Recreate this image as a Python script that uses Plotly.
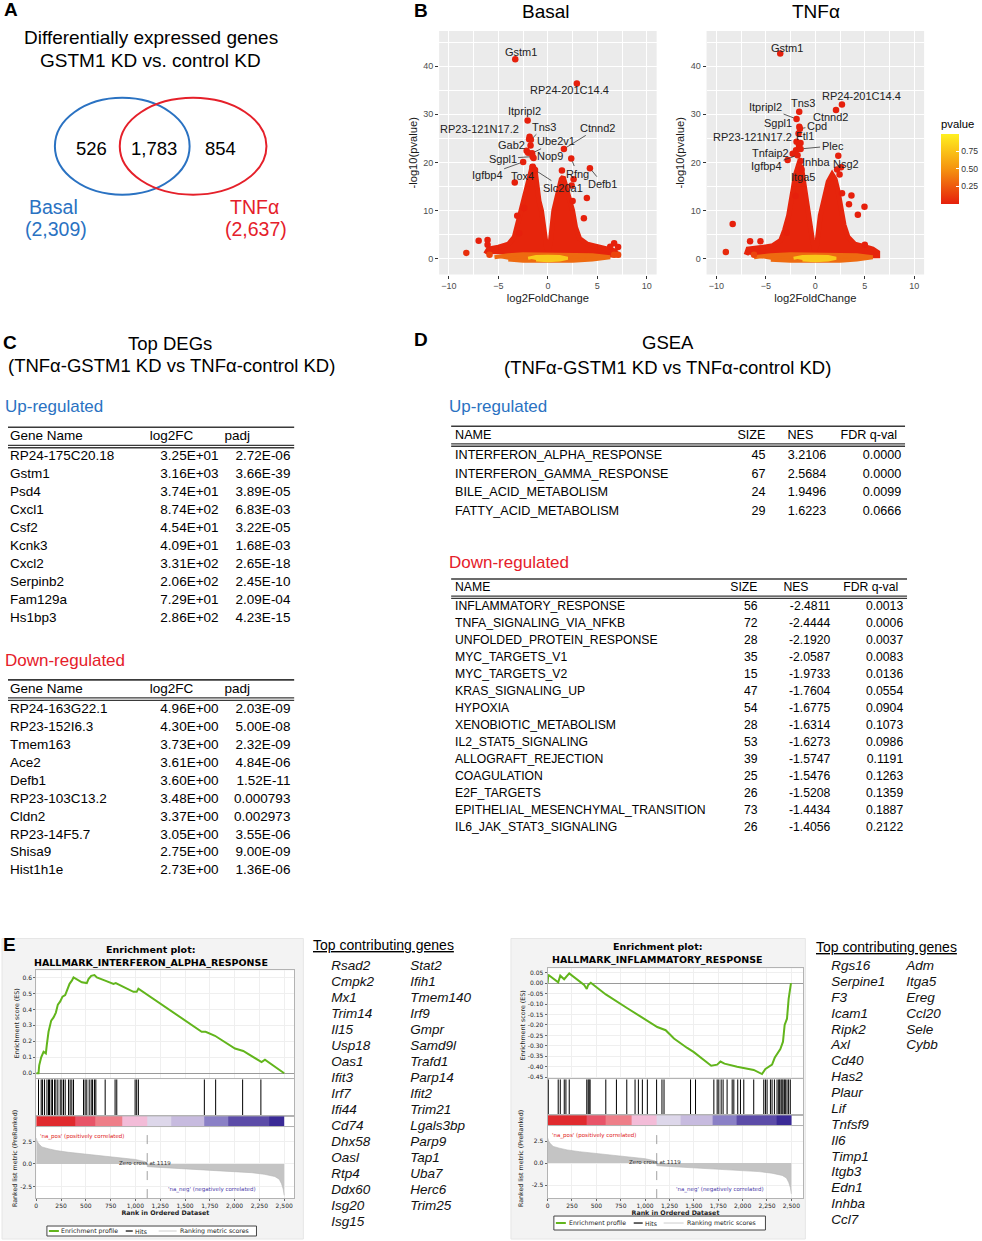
import plotly.graph_objects as go

# ---------------- data ----------------
# A: Venn of differentially expressed genes
VENN_SETS = ['Basal', 'TNFα']
VENN_TOTALS = [2309, 2637]
VENN_COUNTS = [526, 1783, 854]  # basal only, both, TNFα only

# B: volcano plots (log2FoldChange, -log10 pvalue)
BASAL_GENES = ['Gstm1', 'RP24-201C14.4', 'Itpripl2', 'RP23-121N17.2', 'Tns3', 'Gab2', 'Ube2v1',
               'Ctnnd2', 'Sgpl1', 'Nop9', 'Igfbp4', 'Tox4', 'Slc20a1', 'Rfng', 'Defb1']
BASAL_FC = [-3.3, 2.93, -2.05, -1.85, -1.72, -2.15, -1.6, 1.62, -1.55, -1.45, -2.5, -1.55, -1.3, 2.36, 4.25]
BASAL_LP = [41.4, 36.4, 28.7, 25.3, 24.7, 22.4, 21.9, 22.8, 21.2, 20.9, 20.1, 19.1, 18.4, 20.8, 18.8]
BASAL_OUT_FC = [-1.9, -2.0, -1.75, -3.35, 1.42, 2.6, 2.4, 2.5, 3.94, 3.64, -3.1, -2.4, -2.9, -7.0,
                -6.1, -6.1, -8.25, -5.9, 6.7, 7.1, 6.7, 7.1, 6.3]
BASAL_OUT_LP = [24.8, 22.0, 23.5, 15.8, 18.3, 16.5, 15.2, 12.0, 12.6, 8.4, 8.9, 10.5, 5.3, 3.7,
                3.9, 2.9, 1.2, 0.8, 3.2, 2.4, 0.8, 0.8, 2.5]
# outline of the dense cloud of genes (red), the low-significance band (orange) and core (yellow)
BASAL_CLOUD_FC = [-6.3, -6.0, -5.0, -4.0, -3.4, -3.1, -2.75, -2.4, -2.1, -1.8, -1.55, -1.3, -1.1, -0.9,
                  -0.65, -0.4, -0.15, 0.05, 0.25, 0.6, 1.0, 1.35, 1.55, 1.85, 2.2, 2.5, 2.8, 3.2, 4.0,
                  5.0, 6.0, 6.8, 7.0, 0.0]
BASAL_CLOUD_LP = [1.0, 2.0, 2.4, 3.0, 4.5, 7.0, 10.0, 13.0, 15.5, 17.5, 19.5, 18.5, 15.0, 12.0,
                  10.0, 6.0, 2.5, 1.5, 3.5, 10.0, 13.5, 16.5, 17.0, 15.0, 12.0, 10.0, 6.5, 4.2, 3.0,
                  2.5, 2.1, 1.6, 0.8, 0.5]
BASAL_MID_FC = [-5.4, -4.0, -2.5, 0.0, 2.5, 4.5, 6.3, 4.5, 2.5, 0.0, -2.5, -4.0]
BASAL_MID_LP = [0.3, 0.7, 0.9, 0.8, 0.9, 0.7, 0.3, -0.2, -0.45, -0.5, -0.45, -0.2]
BASAL_CORE_FC = [-2.0, -1.2, 0.0, 1.2, 2.0, 1.2, 0.0, -1.2]
BASAL_CORE_LP = [0.1, 0.45, 0.5, 0.45, 0.1, -0.3, -0.45, -0.3]

TNF_GENES = ['Gstm1', 'RP24-201C14.4', 'Tns3', 'Itpripl2', 'Sgpl1', 'Ctnnd2', 'Cpd', 'RP23-121N17.2',
             'Ftl1', 'Plec', 'Tnfaip2', 'Igfbp4', 'Inhba', 'Itga5', 'Nsg2']
TNF_FC = [-3.55, 2.69, -1.63, -1.9, -1.62, 2.09, -1.56, -1.9, -1.5, -1.49, -2.29, -1.8, -1.5, -1.4, 2.32]
TNF_LP = [42.6, 32.0, 30.5, 29.0, 27.4, 30.9, 27.0, 24.3, 24.0, 22.8, 21.8, 21.5, 20.3, 18.5, 21.4]
TNF_OUT_FC = [-8.36, -9.05, -6.6, -5.55, -6.2, -2.9, -2.0, 3.65, 4.97, 3.4, 4.3, 2.7, 5.0, -2.8,
              2.2, 2.6, 2.45, -1.7, -1.95, -1.65]
TNF_OUT_LP = [7.2, 1.4, 3.6, 3.6, 0.8, 5.4, 13.0, 13.1, 10.8, 11.3, 9.1, 13.6, 2.9, 20.5,
              18.5, 19.0, 17.5, 26.0, 22.5, 23.5]
TNF_CLOUD_FC = [-7.0, -6.8, -5.5, -4.3, -3.5, -3.1, -2.7, -2.4, -2.2, -2.0, -1.7, -1.4, -1.2, -0.9,
                -0.6, -0.3, -0.05, 0.15, 0.5, 0.9, 1.3, 1.7, 2.0, 2.3, 2.6, 2.9, 3.3, 4.0, 5.0,
                5.8, 6.3, 6.3, 0.0]
TNF_CLOUD_LP = [0.8, 2.0, 2.3, 2.7, 3.8, 6.0, 9.0, 12.0, 15.0, 17.5, 19.5, 19.0, 16.0, 12.0,
                8.0, 4.0, 1.5, 3.0, 9.0, 13.0, 16.0, 17.5, 16.5, 14.0, 10.5, 7.0, 4.5, 3.0, 2.5,
                2.0, 1.3, 0.6, 0.5]
TNF_MID_FC = [-6.2, -4.5, -2.5, 0.0, 2.5, 4.2, 5.8, 4.2, 2.5, 0.0, -2.5, -4.5]
TNF_MID_LP = [0.3, 0.7, 0.9, 0.8, 0.9, 0.7, 0.3, -0.2, -0.45, -0.5, -0.45, -0.2]
TNF_CORE_FC = [-2.2, -1.3, 0.0, 1.3, 2.1, 1.3, 0.0, -1.3]
TNF_CORE_LP = [0.1, 0.45, 0.5, 0.45, 0.1, -0.3, -0.45, -0.3]

# C: top DEGs
C_UP_GENES = ['RP24-175C20.18', 'Gstm1', 'Psd4', 'Cxcl1', 'Csf2', 'Kcnk3', 'Cxcl2', 'Serpinb2', 'Fam129a', 'Hs1bp3']
C_UP_LFC = ['3.25E+01', '3.16E+03', '3.74E+01', '8.74E+02', '4.54E+01', '4.09E+01', '3.31E+02', '2.06E+02', '7.29E+01', '2.86E+02']
C_UP_PADJ = ['2.72E-06', '3.66E-39', '3.89E-05', '6.83E-03', '3.22E-05', '1.68E-03', '2.65E-18', '2.45E-10', '2.09E-04', '4.23E-15']
C_DN_GENES = ['RP24-163G22.1', 'RP23-152I6.3', 'Tmem163', 'Ace2', 'Defb1', 'RP23-103C13.2', 'Cldn2', 'RP23-14F5.7', 'Shisa9', 'Hist1h1e']
C_DN_LFC = ['4.96E+00', '4.30E+00', '3.73E+00', '3.61E+00', '3.60E+00', '3.48E+00', '3.37E+00', '3.05E+00', '2.75E+00', '2.73E+00']
C_DN_PADJ = ['2.03E-09', '5.00E-08', '2.32E-09', '4.84E-06', '1.52E-11', '0.000793', '0.002973', '3.55E-06', '9.00E-09', '1.36E-06']
C_HEADER = ['Gene Name', 'log2FC', 'padj']

# D: GSEA hallmark sets
D_HEADER = ['NAME', 'SIZE', 'NES', 'FDR q-val']
D_UP_NAMES = ['INTERFERON_ALPHA_RESPONSE', 'INTERFERON_GAMMA_RESPONSE', 'BILE_ACID_METABOLISM', 'FATTY_ACID_METABOLISM']
D_UP_SIZE = [45, 67, 24, 29]
D_UP_NES = [3.2106, 2.5684, 1.9496, 1.6223]
D_UP_FDR = [0.0000, 0.0000, 0.0099, 0.0666]
D_DN_NAMES = ['INFLAMMATORY_RESPONSE', 'TNFA_SIGNALING_VIA_NFKB', 'UNFOLDED_PROTEIN_RESPONSE', 'MYC_TARGETS_V1',
              'MYC_TARGETS_V2', 'KRAS_SIGNALING_UP', 'HYPOXIA', 'XENOBIOTIC_METABOLISM', 'IL2_STAT5_SIGNALING',
              'ALLOGRAFT_REJECTION', 'COAGULATION', 'E2F_TARGETS', 'EPITHELIAL_MESENCHYMAL_TRANSITION',
              'IL6_JAK_STAT3_SIGNALING']
D_DN_SIZE = [56, 72, 28, 35, 15, 47, 54, 28, 53, 39, 25, 26, 73, 26]
D_DN_NES = [-2.4811, -2.4444, -2.1920, -2.0587, -1.9733, -1.7604, -1.6775, -1.6314, -1.6273, -1.5747,
            -1.5476, -1.5208, -1.4434, -1.4056]
D_DN_FDR = [0.0013, 0.0006, 0.0037, 0.0083, 0.0136, 0.0554, 0.0904, 0.1073, 0.0986, 0.1191,
            0.1263, 0.1359, 0.1887, 0.2122]

# E: enrichment plots
IFN_TITLE = 'HALLMARK_INTERFERON_ALPHA_RESPONSE'
IFN_RANK = [0, 23, 30, 50, 74, 97, 107, 124, 151, 175, 198, 218, 242, 265, 292, 315, 336, 359, 376,
            460, 510, 527, 554, 587, 611, 695, 779, 802, 862, 980, 1013, 1030, 1668, 1708, 1802,
            2004, 2087, 2272, 2306, 2500]
IFN_ES = [0.0, 0.0, 0.05, 0.10, 0.135, 0.125, 0.18, 0.26, 0.33, 0.35, 0.38, 0.43, 0.45, 0.48, 0.49,
          0.53, 0.56, 0.58, 0.60, 0.57, 0.565, 0.59, 0.61, 0.615, 0.60, 0.58, 0.56, 0.565, 0.545,
          0.51, 0.51, 0.53, 0.26, 0.26, 0.235, 0.155, 0.14, 0.07, 0.085, 0.0]
IFN_HITS = [23, 50, 64, 84, 108, 124, 134, 151, 164, 185, 198, 218, 242, 258, 275, 292, 326, 342,
            359, 376, 477, 493, 510, 534, 554, 568, 587, 601, 695, 795, 812, 997, 1013, 1030, 1695,
            1809, 2081, 2265]
INF_TITLE = 'HALLMARK_INFLAMMATORY_RESPONSE'
INF_RANK = [0, 7, 109, 130, 170, 222, 375, 402, 416, 443, 597, 699, 818, 955, 1125, 1211, 1296, 1432,
            1500, 1678, 1739, 1773, 1814, 1944, 2114, 2199, 2234, 2302, 2329, 2387, 2414, 2431, 2455,
            2472, 2496]
INF_ES = [0.0, 0.04, 0.004, 0.036, 0.019, 0.047, -0.009, -0.028, -0.009, 0.002, -0.054, -0.086,
          -0.12, -0.16, -0.21, -0.225, -0.265, -0.31, -0.33, -0.395, -0.39, -0.375, -0.385, -0.40,
          -0.415, -0.435, -0.41, -0.39, -0.357, -0.315, -0.28, -0.2, -0.17, -0.075, 0.0]
INF_HITS = [7, 109, 130, 171, 188, 222, 402, 416, 426, 436, 597, 706, 812, 897, 931, 972, 1023, 1118,
            1173, 1194, 1466, 1517, 1705, 1739, 1756, 1780, 1800, 1841, 1893, 1910, 1950, 1978, 2012,
            2114, 2217, 2234, 2251, 2285, 2302, 2326, 2353, 2370, 2380, 2394, 2404, 2414, 2428, 2438,
            2455, 2472, 2489]
RANK_X = [0, 10, 30, 57, 120, 200, 326, 500, 661, 850, 1000, 1097, 1118, 1120, 1300, 1500, 1668,
          1900, 2171, 2300, 2406, 2450, 2473, 2490, 2500]
RANK_METRIC = [2.9, 2.5, 2.2, 1.9, 1.7, 1.5, 1.3, 1.1, 0.9, 0.7, 0.5, 0.26, 0.1, -0.3, -0.4, -0.5,
               -0.67, -0.8, -0.97, -1.15, -1.4, -1.7, -2.2, -2.8, -3.5]
ZERO_CROSS = 1119
HEAT_EDGES = [0, 395, 595, 865, 1115, 1360, 1690, 1940, 2345, 2500]
HEAT_BINS = [0, 1, 2, 3, 4, 5, 6, 7, 8]
RANK_TICKS = [0, 250, 500, 750, 1000, 1250, 1500, 1750, 2000, 2250, 2500]
IFN_TICKS = [0.0, 0.1, 0.2, 0.3, 0.4, 0.5, 0.6]
INF_TICKS = [0.05, 0.0, -0.05, -0.10, -0.15, -0.20, -0.25, -0.30, -0.35, -0.40, -0.45]
METRIC_TICKS = [2.5, 0.0, -2.5]

IFN_GENES_1 = ['Rsad2', 'Cmpk2', 'Mx1', 'Trim14', 'Il15', 'Usp18', 'Oas1', 'Ifit3', 'Irf7', 'Ifi44',
               'Cd74', 'Dhx58', 'Oasl', 'Rtp4', 'Ddx60', 'Isg20', 'Isg15']
IFN_GENES_2 = ['Stat2', 'Ifih1', 'Tmem140', 'Irf9', 'Gmpr', 'Samd9l', 'Trafd1', 'Parp14', 'Ifit2',
               'Trim21', 'Lgals3bp', 'Parp9', 'Tap1', 'Uba7', 'Herc6', 'Trim25']
INF_GENES_1 = ['Rgs16', 'Serpine1', 'F3', 'Icam1', 'Ripk2', 'Axl', 'Cd40', 'Has2', 'Plaur', 'Lif',
               'Tnfsf9', 'Il6', 'Timp1', 'Itgb3', 'Edn1', 'Inhba', 'Ccl7']
INF_GENES_2 = ['Adm', 'Itga5', 'Ereg', 'Ccl20', 'Sele', 'Cybb']

# ---------------- style / layout ----------------
W, H = 982, 1241
SANS = 'Liberation Sans, Arial, sans-serif'
JAVA = 'DejaVu Sans, sans-serif'
BLUE = '#2a72c2'
RED = '#e5202a'
PT_RED, PT_ORANGE, PT_YELLOW = '#e6250c', '#ee6a10', '#f9c81a'
PV_SCALE = [[0, '#e6200c'], [0.5, '#f5930f'], [1, '#fff020']]
GREEN = '#62b51c'
HEAT_COLORS = ['#e02a2e', '#e85468', '#ee7e88', '#f3bcd8', '#ddd7ea', '#c7bbdf', '#8a80c6', '#5c4ca8', '#3a2a96']

fig = go.Figure()
layout = {}
shapes, annotations = [], []


def fx(x):
    return x / W


def fy(y):
    return 1 - y / H


def add_axes(n, left, right, top, bottom, xa=None, ya=None):
    s = '' if n == 1 else str(n)
    base = dict(showgrid=False, zeroline=False, showticklabels=False, ticks='', fixedrange=True, showline=False)
    xd = dict(base, domain=[fx(left), fx(right)], anchor='y' + s)
    yd = dict(base, domain=[fy(bottom), fy(top)], anchor='x' + s)
    xd.update(xa or {})
    yd.update(ya or {})
    layout['xaxis' + s] = xd
    layout['yaxis' + s] = yd
    return 'x' + s, 'y' + s


def note(x, y, text, size, color='black', anchor='center', family=SANS, angle=0, bold=False):
    if bold:
        text = '<b>' + text + '</b>'
    annotations.append(dict(x=fx(x), y=fy(y), xref='paper', yref='paper', text=text, showarrow=False,
                            xanchor=anchor, yanchor='middle', textangle=angle, borderpad=0,
                            font=dict(size=size, color=color, family=family)))


def text_col(xa, ya, xs, ys, texts, pos, size, color='black', family=SANS, style='normal'):
    fig.add_trace(go.Scatter(x=xs, y=ys, text=texts, mode='text', textposition=pos, cliponaxis=False,
                             textfont=dict(size=size, color=color, family=family, style=style),
                             xaxis=xa, yaxis=ya, showlegend=False, hoverinfo='skip'))


# ---- panel letters ----
for letter, (lx, ly) in zip('ABCDE', [(9, 10), (420, 11), (8, 343), (420, 340), (8, 946)]):
    note(lx, ly, letter, 19, bold=True)

# ---- A ----
note(149, 38, 'Differentially expressed genes', 19)
note(149, 61, 'GSTM1 KD vs. control KD', 19)
for (x0, x1), col in zip([(53, 188), (118, 265)], [BLUE, RED]):
    shapes.append(dict(type='circle', xref='paper', yref='paper', x0=fx(x0), x1=fx(x1), y0=fy(195), y1=fy(98),
                       line=dict(color=col, width=2)))
for cnt, cx in zip(VENN_COUNTS, [90, 152, 219]):
    note(cx, 149, f'{cnt:,}', 18.5)
for name, tot, cx, col in zip(VENN_SETS, VENN_TOTALS, [52, 253], [BLUE, RED]):
    note(cx, 207, name, 19.5, col)
    note(cx + 2, 229, f'({tot:,})', 19.5, col)

# ---- B: volcano plots ----
VX = dict(range=[-11, 11], tickvals=[-10, -5, 0, 5, 10], ticks='outside', ticklen=3, tickcolor='#333333',
          showticklabels=True, tickfont=dict(size=9, color='#4d4d4d'), showgrid=True, gridcolor='white',
          gridwidth=1.1, minor=dict(tickvals=[-7.5, -2.5, 2.5, 7.5], showgrid=True, gridcolor='white', gridwidth=0.5),
          title=dict(text='log2FoldChange', font=dict(size=11.2, color='#1a1a1a'), standoff=3))
VY = dict(range=[-3.3, 47.3], tickvals=[0, 10, 20, 30, 40], ticks='outside', ticklen=3, tickcolor='#333333',
          showticklabels=True, tickfont=dict(size=9, color='#4d4d4d'), showgrid=True, gridcolor='white',
          gridwidth=1.1, minor=dict(tickvals=[5, 15, 25, 35, 45], showgrid=True, gridcolor='white', gridwidth=0.5),
          title=dict(text='-log10(pvalue)', font=dict(size=11.2, color='#1a1a1a'), standoff=3))
PV_BAR = dict(x=fx(941), xanchor='left', y=fy(160.5), yanchor='middle', len=87, lenmode='pixels', thickness=18,
              thicknessmode='pixels', xpad=0, ypad=0, outlinewidth=0, tickvals=[0.25, 0.5, 0.75],
              ticktext=['0.25', '0.50', '0.75'], tickfont=dict(size=8.6, color='#333333'), ticks='inside',
              ticklen=3, tickcolor='white', title=dict(text='pvalue', side='top', font=dict(size=11.3)))

BASAL_LABEL_POS = [(6, -7, 0), (-7, 7, 0), (-3, -10, 0), (-50, -8, 0), (13, -13, 1), (-15, -6, 0), (24, -12, 1),
                   (34, -21, 1), (-30, 2, 1), (16, -2, 1), (-36, 13, 1), (-10, 9, 1), (28, 18, 1), (6, 15, 1),
                   (13, 16, 1)]
TNF_LABEL_POS = [(7, -6, 0), (20, -9, 0), (4, -9, 0), (-31, -12, 1), (-21, -4, 0), (-6, 7, 0), (17, -3, 1),
                 (-44, -5, 0), (4, -7, 0), (32, -3, 1), (-22, -1, 0), (-31, 11, 1), (15, 1, 1), (2, 7, 0),
                 (8, 8, 0)]


def volcano(n, left, right, title, tx, polys, genes, fc, lp, out_fc, out_lp, label_pos, scale):
    xa, ya = add_axes(n, left, right, 31, 275, xa=dict(VX), ya=dict(VY))
    shapes.append(dict(type='rect', xref=xa + ' domain', yref=ya + ' domain', x0=0, x1=1, y0=0, y1=1,
                       fillcolor='#ebebeb', line=dict(width=0), layer='below'))
    note(tx, 12, title, 19)
    for (px, py), col, lw in zip(polys, [PT_RED, PT_ORANGE, PT_YELLOW], [5, 4, 3]):
        fig.add_trace(go.Scatter(x=px, y=py, fill='toself', fillcolor=col, mode='lines',
                                 line=dict(color=col, width=lw), xaxis=xa, yaxis=ya,
                                 showlegend=False, hoverinfo='skip'))
    all_fc, all_lp = out_fc + fc, out_lp + lp
    fig.add_trace(go.Scatter(x=all_fc, y=all_lp, mode='markers', xaxis=xa, yaxis=ya, showlegend=False,
                             marker=dict(size=6.5, color=[10 ** -v for v in all_lp], colorscale=PV_SCALE,
                                         cmin=0, cmax=1, showscale=scale, colorbar=PV_BAR)))
    for g, x, y, (dx, dy, lined) in zip(genes, fc, lp, label_pos):
        annotations.append(dict(x=x, y=y, xref=xa, yref=ya, text=g, showarrow=True, ax=dx, ay=dy,
                                arrowhead=0, arrowwidth=0.8, standoff=3,
                                arrowcolor='#333333' if lined else 'rgba(0,0,0,0)',
                                font=dict(size=11, color='#222222', family=SANS)))


volcano(1, 438, 656, 'Basal', 545,
        [(BASAL_CLOUD_FC, BASAL_CLOUD_LP), (BASAL_MID_FC, BASAL_MID_LP), (BASAL_CORE_FC, BASAL_CORE_LP)],
        BASAL_GENES, BASAL_FC, BASAL_LP, BASAL_OUT_FC, BASAL_OUT_LP, BASAL_LABEL_POS, False)
volcano(2, 706, 924, 'TNFα', 816,
        [(TNF_CLOUD_FC, TNF_CLOUD_LP), (TNF_MID_FC, TNF_MID_LP), (TNF_CORE_FC, TNF_CORE_LP)],
        TNF_GENES, TNF_FC, TNF_LP, TNF_OUT_FC, TNF_OUT_LP, TNF_LABEL_POS, True)


# ---- C / D: tables ----
def table(n, left, right, top, header, header_pos, columns, col_pos, head_y, rules, row0, row_h, size):
    pad = 8
    nrows = len(columns[0])
    height = row0 + row_h * nrows
    w = right - left
    xa, ya = add_axes(n, left, right, top - pad, top + height + pad,
                      xa=dict(range=[0, w]), ya=dict(range=[height + pad, -pad]))
    for y0, lw in zip(rules, [1.6, 1.3, 1.3]):
        shapes.append(dict(type='line', xref=xa, yref=ya, x0=0, x1=w, y0=y0, y1=y0,
                           line=dict(color='#3a3a3a', width=lw)))
    for t, (x, anc) in zip(header, header_pos):
        text_col(xa, ya, [x], [head_y], [t], anc, size)
    for col, (x, anc) in zip(columns, col_pos):
        text_col(xa, ya, [x] * nrows, [row0 + i * row_h for i in range(nrows)], col, anc, size)


note(168, 344, 'Top DEGs', 18.5)
note(170, 366, '(TNFα-GSTM1 KD vs TNFα-control KD)', 18.5)
note(2, 407, 'Up-regulated', 17, BLUE, 'left')
note(2, 662, 'Down-regulated', 17, RED, 'left')
C_HEAD_POS = [(2, 'middle right'), (142, 'middle right'), (217, 'middle right')]
C_COL_POS = [(2, 'middle right'), (211, 'middle left'), (283, 'middle left')]
table(3, 6, 293, 428, C_HEADER, C_HEAD_POS, [C_UP_GENES, C_UP_LFC, C_UP_PADJ], C_COL_POS,
      9.5, [0, 18, 20.5], 29.5, 18, 13.5)
table(4, 6, 293, 681, C_HEADER, C_HEAD_POS, [C_DN_GENES, C_DN_LFC, C_DN_PADJ], C_COL_POS,
      9.5, [0, 18, 20.5], 29.5, 18, 13.5)

note(667, 343, 'GSEA', 18.5)
note(667, 368, '(TNFα-GSTM1 KD vs TNFα-control KD)', 18.5)
note(447, 407, 'Up-regulated', 17, BLUE, 'left')
note(447, 563, 'Down-regulated', 17, RED, 'left')
table(5, 450, 905, 427, D_HEADER,
      [(4, 'middle right'), (315, 'middle left'), (337, 'middle right'), (447, 'middle left')],
      [D_UP_NAMES, [str(s) for s in D_UP_SIZE], [f'{v:.4f}' for v in D_UP_NES], [f'{v:.4f}' for v in D_UP_FDR]],
      [(4, 'middle right'), (315, 'middle left'), (376, 'middle left'), (451, 'middle left')],
      10, [0, 17.5, 20], 30, 18.5, 12.6)
table(6, 450, 907, 580, D_HEADER,
      [(4, 'middle right'), (307, 'middle left'), (333, 'middle right'), (448, 'middle left')],
      [D_DN_NAMES, [str(s) for s in D_DN_SIZE], [f'{v:.4f}' for v in D_DN_NES], [f'{v:.4f}' for v in D_DN_FDR]],
      [(4, 'middle right'), (307, 'middle left'), (380, 'middle left'), (453, 'middle left')],
      9, [0, 17, 19.3], 28.3, 17, 12.2)

# ---- E: enrichment plots ----
SMALL = dict(size=6, family=JAVA, color='#222222')


def enrichment(n, left, right, rows, xmax, es_range, es_ticks, es_fmt, rk_range, es_rank, es_score, hits):
    es_top, es_bot, hit_bot, cb_bot, rk_bot = rows
    frame = dict(showline=True, mirror=True, linecolor='#b3b3b3', linewidth=1)
    xgrid = dict(range=[0, xmax], tickvals=RANK_TICKS, showgrid=True, gridcolor='#efefef', **frame)
    tops = [es_top, es_bot + 1, hit_bot, cb_bot + 1]
    bots = [es_bot, hit_bot, cb_bot, rk_bot]
    axes = []
    # enrichment score
    axes.append(add_axes(n, left, right, tops[0], bots[0], xa=dict(xgrid),
                         ya=dict(range=es_range, tickvals=es_ticks, ticktext=[es_fmt.format(v) for v in es_ticks],
                                 showticklabels=True, tickfont=SMALL, ticks='outside', ticklen=2,
                                 tickcolor='#666666', showgrid=True, gridcolor='#efefef', zeroline=True,
                                 zerolinecolor='#9a9a9a', zerolinewidth=1, **frame)))
    # hits
    axes.append(add_axes(n + 1, left, right, tops[1], bots[1], xa=dict(range=[0, xmax], **frame),
                         ya=dict(range=[0, 1], **frame)))
    # ranked list colour bar
    axes.append(add_axes(n + 2, left, right, tops[2], bots[2], xa=dict(range=[0, xmax], **frame),
                         ya=dict(range=[0, 1], **frame)))
    # ranked list metric
    axes.append(add_axes(n + 3, left, right, tops[3], bots[3],
                         xa=dict(xgrid, showticklabels=True, ticktext=[f'{v:,}' for v in RANK_TICKS],
                                 tickfont=SMALL, ticks='outside', ticklen=2, tickcolor='#666666',
                                 title=dict(text='<b>Rank in Ordered Dataset</b>', font=dict(SMALL, size=6.3),
                                            standoff=2)),
                         ya=dict(range=rk_range, tickvals=METRIC_TICKS, ticktext=[f'{v:.1f}' for v in METRIC_TICKS],
                                 showticklabels=True, tickfont=SMALL, ticks='outside', ticklen=2,
                                 tickcolor='#666666', showgrid=True, gridcolor='#efefef', **frame)))
    for xa, ya in axes:
        shapes.append(dict(type='rect', xref=xa + ' domain', yref=ya + ' domain', x0=0, x1=1, y0=0, y1=1,
                           fillcolor='white', line=dict(width=0), layer='below'))
    (xe, ye), (xh, yh), (xc, yc), (xr, yr) = axes
    fig.add_trace(go.Scatter(x=es_rank, y=es_score, mode='lines', line=dict(color=GREEN, width=2),
                             xaxis=xe, yaxis=ye, showlegend=False, hoverinfo='skip'))
    hx, hy = [], []
    for h in hits:
        hx += [h, h, None]
        hy += [0, 1, None]
    fig.add_trace(go.Scatter(x=hx, y=hy, mode='lines', line=dict(color='black', width=1),
                             xaxis=xh, yaxis=yh, showlegend=False, hoverinfo='skip'))
    n_bins = len(HEAT_COLORS)
    cs = []
    for i, c in enumerate(HEAT_COLORS):
        cs += [[i / n_bins, c], [(i + 1) / n_bins, c]]
    fig.add_trace(go.Heatmap(x=HEAT_EDGES, y=[0, 1], z=[HEAT_BINS], colorscale=cs, zmin=-0.5, zmax=n_bins - 0.5,
                             showscale=False, xaxis=xc, yaxis=yc, hoverinfo='skip'))
    fig.add_trace(go.Scatter(x=RANK_X, y=RANK_METRIC, mode='lines', fill='tozeroy', fillcolor='#c4c4c4',
                             line=dict(color='#b5b5b5', width=0.6), xaxis=xr, yaxis=yr,
                             showlegend=False, hoverinfo='skip'))
    shapes.append(dict(type='line', xref=xr, yref=yr + ' domain', x0=ZERO_CROSS, x1=ZERO_CROSS, y0=0, y1=1,
                       line=dict(color='#8a8a8a', width=0.8, dash='dash')))
    annotations.append(dict(x=ZERO_CROSS - 20, y=0.1, xref=xr, yref=yr, text=f'Zero cross at {ZERO_CROSS}',
                            showarrow=False, font=dict(size=5.5, family=JAVA, color='#333333')))
    annotations.append(dict(x=20, y=rk_range[1] - 0.4, xref=xr, yref=yr, xanchor='left', yanchor='top',
                            text="'na_pos' (positively correlated)", showarrow=False,
                            font=dict(size=5.5, family=JAVA, color='#e02020')))
    annotations.append(dict(x=1770, y=rk_range[0] + 0.3, xref=xr, yref=yr, yanchor='bottom',
                            text="'na_neg' (negatively correlated)", showarrow=False,
                            font=dict(size=5.5, family=JAVA, color='#4a3aa8')))


def panel_frame(x0, x1, title, cx, ty, es_y, rk_y, tx, legend):
    shapes.append(dict(type='rect', xref='paper', yref='paper', x0=fx(x0), x1=fx(x1), y0=fy(1241), y1=fy(940),
                       fillcolor='#f3f3f3', line=dict(color='#e6e6e6', width=1), layer='below'))
    note(cx, ty, 'Enrichment plot:', 9.5, family=JAVA, bold=True)
    note(cx, ty + 13, title, 9.5, family=JAVA, bold=True)
    note(tx, es_y, 'Enrichment score (ES)', 6.3, family=JAVA, angle=-90, color='#222222')
    note(tx - 2, rk_y, 'Ranked list metric (PreRanked)', 6.3, family=JAVA, angle=-90, color='#222222')
    (bx0, bx1, by0, by1), items = legend
    shapes.append(dict(type='rect', xref='paper', yref='paper', x0=fx(bx0), x1=fx(bx1), y0=fy(by1), y1=fy(by0),
                       fillcolor='white', line=dict(color='#444444', width=1)))
    ym = (by0 + by1) / 2
    for (lx0, lx1, col, lab_x), lab in zip(items, ['Enrichment profile', 'Hits', 'Ranking metric scores']):
        shapes.append(dict(type='line', xref='paper', yref='paper', x0=fx(lx0), x1=fx(lx1), y0=fy(ym), y1=fy(ym),
                           line=dict(color=col, width=2 if col == GREEN else 1.2)))
        note(lab_x, ym, lab, 6.2, family=JAVA, anchor='left', color='#222222')


panel_frame(0, 302, IFN_TITLE, 149, 951, 1025, 1160, 14,
            ((45, 255, 1228, 1238), [(47, 57, GREEN, 58), (124, 131, 'black', 132), (157, 175, '#d6d6d6', 177)]))
panel_frame(510, 805, INF_TITLE, 657, 948, 1027, 1160, 521,
            ((553, 765, 1218, 1232), [(555, 565, GREEN, 567), (633, 642, 'black', 643), (663, 683, '#d6d6d6', 685)]))

enrichment(7, 34.3, 293, (972, 1080, 1118, 1128, 1200), 2603, [-0.031, 0.644], IFN_TICKS, '{:.1f}',
           [-3.8, 4.1], IFN_RANK, IFN_ES, IFN_HITS)
enrichment(11, 546.7, 803, (970, 1080, 1117, 1127, 1200), 2623, [-0.455, 0.0705], INF_TICKS, '{:.2f}',
           [-3.98, 4.2], INF_RANK, INF_ES, INF_HITS)


# ---- E: top contributing genes ----
def gene_list(n, left, top, col2_x, row_h, cols):
    nrows = max(len(c) for c in cols)
    height = row_h * nrows
    xa, ya = add_axes(n, left, left + 140, top, top + height, xa=dict(range=[0, 140]), ya=dict(range=[height, 0]))
    for c, x in zip(cols, [0, col2_x]):
        text_col(xa, ya, [x] * len(c), [row_h * (i + 0.5) for i in range(len(c))], c, 'middle right', 13.5,
                 color='#111111', style='italic')


note(311, 947, '<u>Top contributing genes</u>', 14, anchor='left')
note(815, 949, '<u>Top contributing genes</u>', 14, anchor='left')
gene_list(15, 330, 960.3, 79, 16, [IFN_GENES_1, IFN_GENES_2])
gene_list(16, 831, 960.3, 75, 15.9, [INF_GENES_1, INF_GENES_2])

fig.update_layout(**layout)
fig.update_layout(width=W, height=H, margin=dict(l=0, r=0, t=0, b=0), paper_bgcolor='white',
                  plot_bgcolor='rgba(0,0,0,0)', font=dict(family=SANS, color='black'), showlegend=False,
                  shapes=shapes, annotations=annotations)
# the page body has a default 8px margin; drop it so the figure sits at the window origin
fig.write_html('out.html', config={'displayModeBar': False},
               post_script="document.body.style.margin='0';document.body.style.overflow='hidden';")
